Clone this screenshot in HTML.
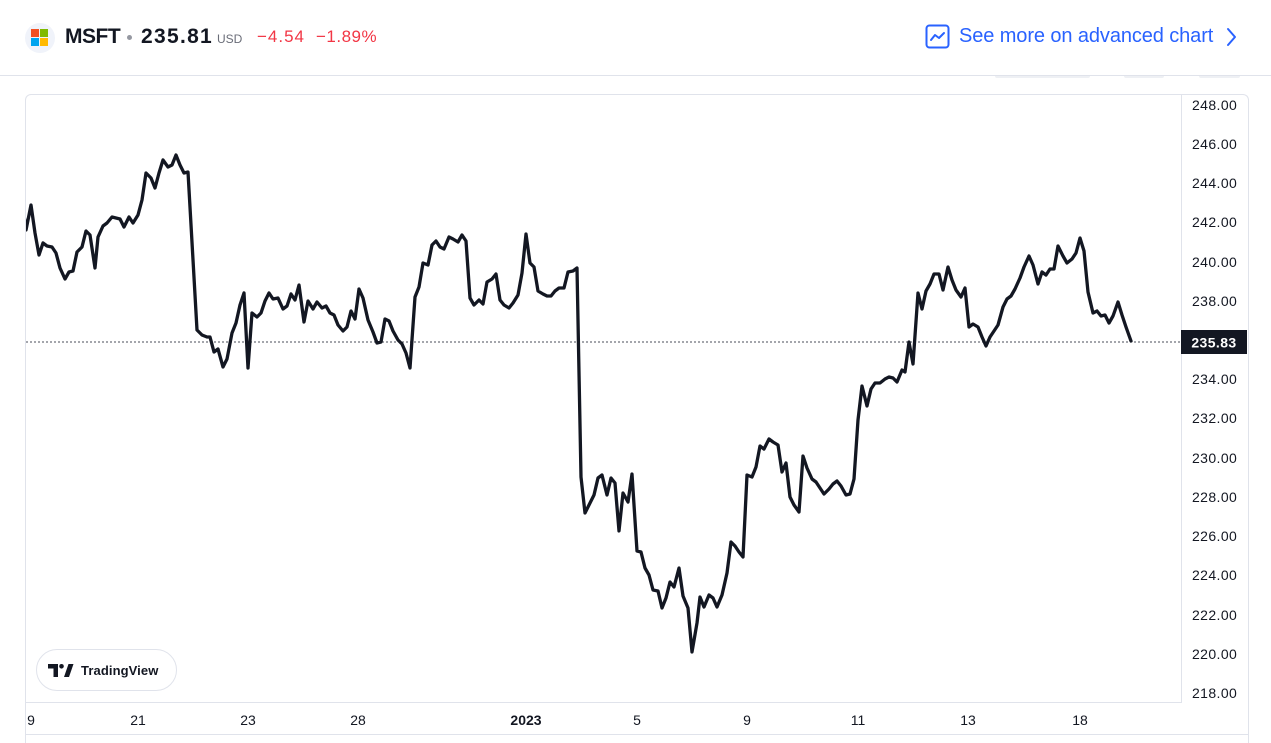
<!DOCTYPE html>
<html>
<head>
<meta charset="utf-8">
<style>
  html,body{margin:0;padding:0;background:#fff;width:1271px;height:743px;overflow:hidden;}
  body{position:relative;font-family:"Liberation Sans",sans-serif;color:#131722;}
  .abs{position:absolute;white-space:nowrap;}
  .hdrline{position:absolute;left:0;top:75px;width:1271px;height:1px;background:#e0e3eb;}
  .frame{position:absolute;left:25px;top:94px;width:1222px;height:649px;border:1px solid #e0e3eb;border-bottom:none;border-radius:6px 6px 0 0;}
  .logo{position:absolute;left:25px;top:23px;width:30px;height:30px;border-radius:50%;background:#f0f3fa;}
  .sq{position:absolute;width:8px;height:8px;}
  .ylab{position:absolute;left:1192px;font-size:14px;letter-spacing:0.4px;color:#131722;line-height:16px;}
  .xlab{position:absolute;top:712px;font-size:14px;color:#131722;line-height:16px;transform:translateX(-50%);}
</style>
</head>
<body>
<div class="logo">
  <div class="sq" style="left:6px;top:6px;background:#f25022;"></div>
  <div class="sq" style="left:15px;top:6px;background:#7fba00;"></div>
  <div class="sq" style="left:6px;top:15px;background:#00a4ef;"></div>
  <div class="sq" style="left:15px;top:15px;background:#ffb900;"></div>
</div>
<div class="abs" style="left:65px;top:25px;font-size:21px;font-weight:bold;letter-spacing:-0.5px;line-height:24px;">MSFT</div>
<div class="abs" style="left:127px;top:35px;width:5px;height:5px;border-radius:50%;background:#9598a1;"></div>
<div class="abs" style="left:141px;top:25px;font-size:21px;font-weight:bold;letter-spacing:1.3px;line-height:24px;">235.81</div>
<div class="abs" style="left:217px;top:32px;font-size:12px;color:#6a6d78;line-height:14px;">USD</div>
<div class="abs" style="left:257px;top:27px;font-size:17px;color:#f23645;letter-spacing:1px;line-height:20px;">−4.54</div>
<div class="abs" style="left:316px;top:27px;font-size:17px;color:#f23645;letter-spacing:0.5px;line-height:20px;">−1.89%</div>

<svg class="abs" style="left:925px;top:24px;" width="26" height="26" viewBox="0 0 26 26">
  <rect x="1.5" y="1.5" width="22" height="22" rx="3" fill="none" stroke="#2962ff" stroke-width="2"/>
  <path d="M6 16 L10 11 L14 14 L19 9" fill="none" stroke="#2962ff" stroke-width="2" stroke-linejoin="round" stroke-linecap="round"/>
</svg>
<div class="abs" style="left:959px;top:24px;font-size:20px;color:#2962ff;line-height:24px;letter-spacing:-0.1px;">See more on advanced chart</div>
<svg class="abs" style="left:1224px;top:27px;" width="16" height="20" viewBox="0 0 16 20">
  <path d="M4 2 L11 10 L4 18" fill="none" stroke="#2962ff" stroke-width="2" stroke-linecap="round" stroke-linejoin="round"/>
</svg>

<div class="hdrline"></div>
<div class="abs" style="left:995px;top:76px;width:95px;height:2px;background:#eef0f4;border-radius:0 0 4px 4px;"></div>
<div class="abs" style="left:1124px;top:76px;width:40px;height:2px;background:#eef0f4;border-radius:0 0 4px 4px;"></div>
<div class="abs" style="left:1199px;top:76px;width:41px;height:2px;background:#eef0f4;border-radius:0 0 4px 4px;"></div>

<div class="frame"></div>

<svg class="abs" style="left:0;top:0;" width="1271" height="743" viewBox="0 0 1271 743">
  <defs>
    <clipPath id="pc"><rect x="26" y="95" width="1155" height="607"/></clipPath>
  </defs>
  <line x1="1181.5" y1="95" x2="1181.5" y2="702" stroke="#e0e3eb" stroke-width="1"/>
  <line x1="26" y1="702.5" x2="1182" y2="702.5" stroke="#e0e3eb" stroke-width="1"/>
  <line x1="26" y1="734.5" x2="1248" y2="734.5" stroke="#e0e3eb" stroke-width="1"/>
  <line x1="26" y1="342" x2="1181" y2="342" stroke="#4a4e59" stroke-width="1" stroke-dasharray="2 2"/>
  <g clip-path="url(#pc)">
  <polyline fill="none" stroke="#131722" stroke-width="3.3" stroke-linejoin="round" stroke-linecap="round" points="
22,200 26,230 31,205 35,233 39,255 43,243 47,246 52,247 56,253 60,268 65,279 69,272 73,271 77,252 82,247 86,231 90,235 95,268 98,237 103,226 107,223 112,217 120,219 124,227 129,217 133,223 138,215 142,200 146,173 151,178 155,188 159,173 163,160 168,167 172,165 176,155 180,165 184,173 188,172 197,330 202,335 207,337 210,337 214,352 218,349 223,367 227,359 232,333 236,323 240,305 244,293 248,368 252,313 257,317 261,313 265,301 269,293 273,299 278,298 283,309 287,306 291,294 295,300 299,285 304,322 308,301 313,309 317,302 322,308 326,306 330,313 334,315 338,325 343,331 347,327 351,311 355,319 359,289 363,298 368,320 373,332 377,343 381,342 385,319 389,321 393,331 398,340 402,344 406,353 410,368 415,297 419,287 423,263 428,265 432,245 436,241 440,247 444,249 449,237 453,239 458,242 462,235 466,241 470,298 474,305 479,300 483,304 487,282 492,279 496,274 500,300 504,305 509,308 513,303 518,295 522,273 526,234 530,263 534,267 538,291 543,294 547,296 551,296 555,291 559,288 564,288 568,272 573,271 577,268 581,477 585,513 589,505 594,495 598,478 602,475 607,495 611,478 615,483 619,531 623,493 628,502 632,474 637,551 641,552 645,568 649,575 653,590 658,591 662,608 666,598 670,582 674,587 679,568 683,596 688,608 692,652 697,623 700,597 704,607 709,595 713,598 717,607 722,595 727,573 731,542 735,546 739,552 743,557 747,475 752,477 756,467 760,446 764,449 769,439 773,442 778,445 782,472 786,463 790,497 794,505 799,512 803,456 807,468 812,479 816,482 820,488 824,494 829,489 833,484 837,481 841,486 846,495 850,494 854,479 858,420 862,386 867,406 871,389 875,383 880,383 885,379 889,377 893,378 897,382 902,370 905,372 909,342 913,364 918,293 922,309 926,291 930,284 934,274 939,274 943,290 948,267 952,280 956,290 961,297 965,288 969,327 973,324 978,327 982,337 986,346 990,337 994,331 998,325 1003,307 1007,299 1011,296 1015,289 1020,278 1024,267 1029,256 1033,265 1038,284 1042,272 1046,275 1050,269 1054,269 1058,246 1063,256 1067,263 1072,259 1076,253 1080,238 1084,251 1088,292 1093,313 1097,311 1101,316 1105,315 1109,323 1113,316 1118,302 1122,315 1126,327 1131,341"/>
  </g>
  <rect x="1181" y="330" width="66" height="24" fill="#131722"/>
  <text x="1214" y="347.5" font-family="Liberation Sans, sans-serif" font-size="14" font-weight="bold" fill="#ffffff" text-anchor="middle" letter-spacing="0.4">235.83</text>
</svg>

<div class="ylab" style="top:97px;">248.00</div>
<div class="ylab" style="top:136px;">246.00</div>
<div class="ylab" style="top:175px;">244.00</div>
<div class="ylab" style="top:214px;">242.00</div>
<div class="ylab" style="top:254px;">240.00</div>
<div class="ylab" style="top:293px;">238.00</div>
<div class="ylab" style="top:371px;">234.00</div>
<div class="ylab" style="top:410px;">232.00</div>
<div class="ylab" style="top:450px;">230.00</div>
<div class="ylab" style="top:489px;">228.00</div>
<div class="ylab" style="top:528px;">226.00</div>
<div class="ylab" style="top:567px;">224.00</div>
<div class="ylab" style="top:607px;">222.00</div>
<div class="ylab" style="top:646px;">220.00</div>
<div class="ylab" style="top:685px;">218.00</div>

<div class="xlab" style="left:31px;">9</div>
<div class="xlab" style="left:138px;">21</div>
<div class="xlab" style="left:248px;">23</div>
<div class="xlab" style="left:358px;">28</div>
<div class="xlab" style="left:526px;font-weight:bold;">2023</div>
<div class="xlab" style="left:637px;">5</div>
<div class="xlab" style="left:747px;">9</div>
<div class="xlab" style="left:858px;">11</div>
<div class="xlab" style="left:968px;">13</div>
<div class="xlab" style="left:1080px;">18</div>

<div class="abs" style="left:36px;top:649px;width:139px;height:40px;border:1px solid #e0e3eb;border-radius:21px;background:#fff;"></div>
<svg class="abs" style="left:48px;top:664px;" width="26" height="14" viewBox="0 0 26 14">
  <path d="M0 0 H10 V13 H5.5 V4.5 H0 Z" fill="#131722"/>
  <circle cx="13.5" cy="2.3" r="2.3" fill="#131722"/>
  <path d="M16 13 L20.5 0 H25.5 L21 13 Z" fill="#131722"/>
</svg>
<div class="abs" style="left:81px;top:663px;font-size:13px;font-weight:bold;color:#131722;line-height:16px;letter-spacing:0.1px;">TradingView</div>
</body>
</html>
